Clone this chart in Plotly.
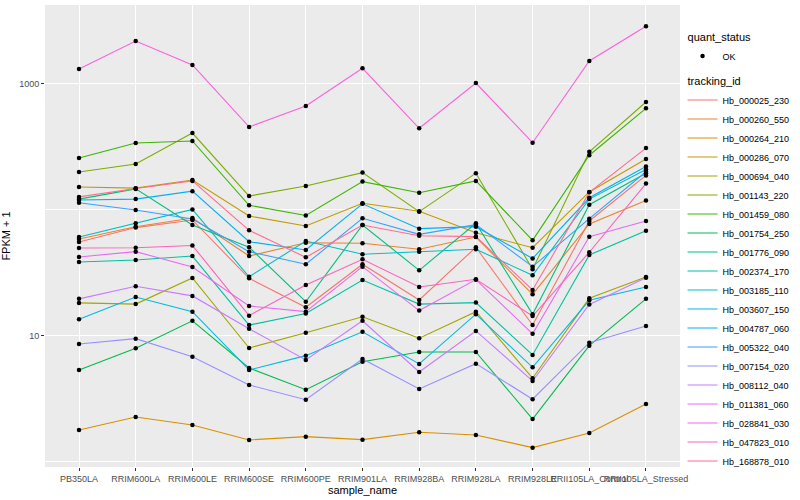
import plotly.graph_objects as go

samples = ["PB350LA", "RRIM600LA", "RRIM600LE", "RRIM600SE", "RRIM600PE", "RRIM901LA",
           "RRIM928BA", "RRIM928LA", "RRIM928LE", "RRII105LA_Control", "RRII105LA_Stressed"]

# FPKM + 1 values
Hb_000025_230 = [55.7, 72.5, 83.3, 28.7, 16.9, 37.1, 19.3, 50.6, 12.2, 81.8, 188]
Hb_000260_550 = [58.9, 73.7, 86.4, 43.1, 55.0, 54.4, 48.8, 61.0, 21.4, 77.4, 119]
Hb_000264_210 = [1.795, 2.276, 1.967, 1.495, 1.588, 1.503, 1.721, 1.638, 1.299, 1.699, 2.886]
Hb_000286_070 = [152, 149, 173, 89.6, 74.6, 113, 97.6, 66.0, 50.2, 139, 254]
Hb_000694_040 = [18.3, 17.9, 28.9, 8.03, 10.6, 14.2, 9.59, 15.6, 4.62, 19.9, 29.4]
Hb_001143_220 = [200, 232, 408, 129, 155, 198, 97.0, 196, 33.8, 290, 720]
Hb_001459_080 = [259, 340, 353, 109, 90.5, 168, 137, 170, 57.5, 272, 641]
Hb_001754_250 = [5.37, 8.0, 13.2, 5.57, 3.75, 6.25, 7.46, 7.46, 2.19, 8.38, 19.7]
Hb_001776_090 = [122, 147, 76.0, 50.6, 18.7, 76.0, 33.2, 78.4, 14.9, 110, 196]
Hb_002374_170 = [38.7, 40.1, 43.1, 12.2, 15.1, 27.8, 17.9, 18.4, 7.07, 43.9, 68.5]
Hb_003185_110 = [61.0, 78.4, 101, 29.5, 56.7, 44.5, 46.7, 48.8, 30.3, 122, 210]
Hb_003607_150 = [13.6, 20.4, 15.6, 5.37, 6.98, 10.8, 6.0, 14.9, 5.64, 19.2, 24.5]
Hb_004787_060 = [120, 122, 141, 56.0, 48.1, 112, 71.1, 73.7, 41.2, 125, 221]
Hb_005322_040 = [114, 100, 84.8, 46.7, 37.1, 85.9, 64.1, 76.5, 35.5, 85.3, 201]
Hb_007154_020 = [8.64, 9.52, 6.85, 4.08, 3.12, 6.57, 3.80, 6.03, 3.15, 8.85, 12.0]
Hb_008112_040 = [19.7, 24.8, 20.8, 11.4, 6.45, 13.2, 5.18, 10.96, 4.39, 17.8, 29.0]
Hb_011381_060 = [42.4, 46.7, 35.3, 17.3, 15.6, 35.5, 15.9, 28.0, 10.4, 61.4, 81.8]
Hb_028841_030 = [1315, 2194, 1415, 456, 669, 1332, 445, 1018, 342, 1522, 2870]
Hb_047823_010 = [49.9, 50.2, 52.3, 14.5, 25.4, 40.6, 24.5, 28.2, 14.4, 46.2, 162]
Hb_168878_010 = [127, 148, 170, 69.0, 42.1, 76.0, 62.5, 61.4, 23.2, 138, 310]

tracking_ids = ["Hb_000025_230", "Hb_000260_550", "Hb_000264_210", "Hb_000286_070",
                "Hb_000694_040", "Hb_001143_220", "Hb_001459_080", "Hb_001754_250",
                "Hb_001776_090", "Hb_002374_170", "Hb_003185_110", "Hb_003607_150",
                "Hb_004787_060", "Hb_005322_040", "Hb_007154_020", "Hb_008112_040",
                "Hb_011381_060", "Hb_028841_030", "Hb_047823_010", "Hb_168878_010"]
series = [Hb_000025_230, Hb_000260_550, Hb_000264_210, Hb_000286_070, Hb_000694_040,
          Hb_001143_220, Hb_001459_080, Hb_001754_250, Hb_001776_090, Hb_002374_170,
          Hb_003185_110, Hb_003607_150, Hb_004787_060, Hb_005322_040, Hb_007154_020,
          Hb_008112_040, Hb_011381_060, Hb_028841_030, Hb_047823_010, Hb_168878_010]
colors = ["#F8766D", "#EA8331", "#D89000", "#C09B00", "#A3A500", "#7CAE00", "#39B600",
          "#00BB4E", "#00BF7D", "#00C1A3", "#00BFC4", "#00BAE0", "#00B0F6", "#35A2FF",
          "#9590FF", "#C77CFF", "#E76BF3", "#FA62DB", "#FF62BC", "#FF6C91"]

FONT = "Liberation Sans, Arial, sans-serif"
fig = go.Figure()

for name, vals, col in zip(tracking_ids, series, colors):
    fig.add_trace(go.Scatter(
        x=samples, y=vals, mode="lines", name=name,
        line=dict(color=col, width=1.1),
        legendgroup="tid", legendgrouptitle=dict(text="tracking_id", font=dict(size=11, color="black")),
        hoverinfo="name+y", legendrank=2))

all_x, all_y = [], []
for vals in series:
    all_x += samples
    all_y += vals
fig.add_trace(go.Scatter(
    x=all_x, y=all_y, mode="markers", name="OK",
    marker=dict(color="black", size=4.5),
    legendgroup="qs", legendgrouptitle=dict(text="quant_status", font=dict(size=11, color="black")),
    legendrank=1))

fig.update_layout(
    width=800, height=500,
    margin=dict(l=45, r=115, t=5, b=33),
    paper_bgcolor="white", plot_bgcolor="#EBEBEB",
    font=dict(family=FONT, size=9, color="#4D4D4D"),
    showlegend=True,
    legend=dict(x=1.004, xanchor="left", y=0.962, yanchor="top",
                font=dict(size=9, color="black"), tracegroupgap=6,
                bgcolor="rgba(0,0,0,0)", itemwidth=30),
    xaxis=dict(
        type="category", categoryorder="array", categoryarray=samples,
        range=[-0.6, 10.6], showgrid=True, gridcolor="white", gridwidth=1.1,
        zeroline=False, ticks="outside", ticklen=3, tickcolor="#333333",
        tickangle=0, tickfont=dict(size=9, color="#4D4D4D"),
        title=dict(text="sample_name", font=dict(size=11, color="black"), standoff=3),
        showline=False),
    yaxis=dict(
        type="log", range=[-0.04, 3.627],
        tickmode="array", tickvals=[10, 1000], ticktext=["10", "1000"],
        showgrid=True, gridcolor="white", gridwidth=1.1, zeroline=False,
        ticks="outside", ticklen=3, tickcolor="#333333",
        tickfont=dict(size=9, color="#4D4D4D"),
        minor=dict(tickmode="array", tickvals=[1, 100], showgrid=True,
                   gridcolor="white", gridwidth=0.55, ticks=""),
        title=dict(text="FPKM + 1", font=dict(size=11, color="black"), standoff=6),
        showline=False),
)

fig.write_html("out.html", config={"displayModeBar": False},
               post_script="document.body.style.margin='0';")
